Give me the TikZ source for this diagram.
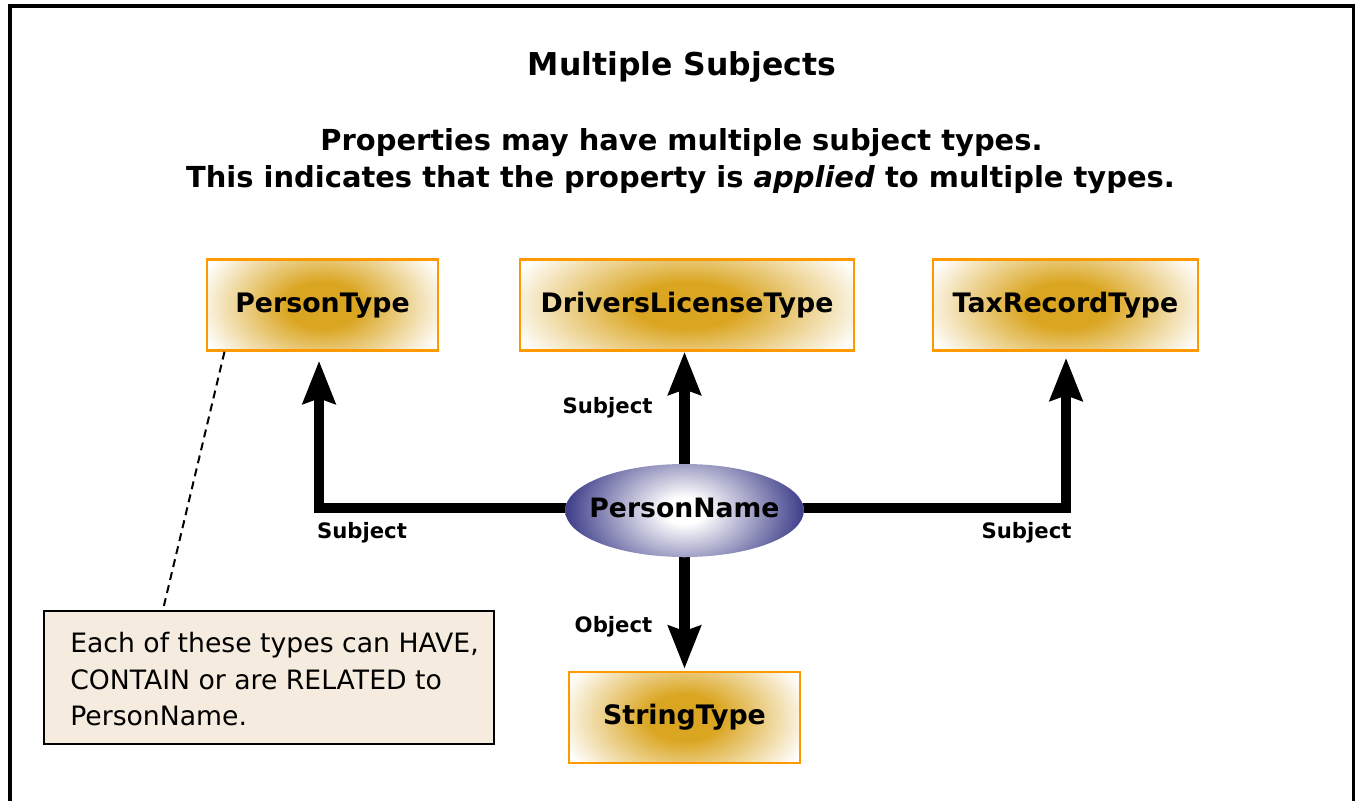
\documentclass[tikz,border=0pt]{standalone}
\usepackage{fontspec}
\setmainfont{DejaVu Sans}
\usetikzlibrary{arrows.meta,shapes.geometric,calc,backgrounds}
\definecolor{boxgold}{RGB}{218,165,32}
\definecolor{boxorange}{RGB}{255,153,0}
\definecolor{pnblue}{RGB}{52,52,132}
\definecolor{notefill}{RGB}{245,235,222}
\pgfdeclareradialshading{goldshade}{\pgfpoint{0bp}{0bp}}{color(0bp)=(boxgold); color(7bp)=(boxgold); color(25bp)=(white); color(50bp)=(white)}
\pgfdeclareradialshading{pnshade}{\pgfpoint{0bp}{0bp}}{color(0bp)=(white); color(4bp)=(white); color(25bp)=(pnblue); color(50bp)=(pnblue)}
\tikzset{
  typebox/.style={draw=boxorange, line width=1.8pt, fill=white, rectangle,
    minimum height=68.25pt, inner sep=0pt,
    font=\bfseries\fontsize{20.1pt}{24pt}\selectfont, text height=15.5pt, text depth=5pt,
    path picture={\shade[shading=goldshade]
      let \p1=(path picture bounding box.north east), \p2=(path picture bounding box.south west) in
      (path picture bounding box.center) ellipse [x radius={0.56*(\x1-\x2)}, y radius={0.9*(\y1-\y2)}];}},
  propnode/.style={ellipse, fill=white, inner xsep=-8pt, inner ysep=0pt, minimum width=176.25pt, minimum height=69.75pt,
    font=\bfseries\fontsize{20pt}{24pt}\selectfont, text height=15.3pt, text depth=5.5pt,
    path picture={\shade[shading=pnshade]
      let \p1=(path picture bounding box.north east), \p2=(path picture bounding box.south west) in
      (path picture bounding box.center) ellipse [x radius={0.52*(\x1-\x2)}, y radius={0.9*(\y1-\y2)}];}},
  bigarrow/.style={line width=7.8pt, -{Stealth[length=32pt,width=24pt,inset=3.75pt]}},
  edgelabel/.style={font=\bfseries\fontsize{15.9pt}{19pt}\selectfont, anchor=base, inner sep=0pt},
  notebox/.style={draw=black, line width=2pt, fill=notefill, minimum width=337.5pt, minimum height=99.75pt, inner sep=0pt},
  notetextstyle/.style={font=\fontsize{20pt}{27.4pt}\selectfont, align=left, anchor=north west, inner sep=0pt},
  titlestyle/.style={font=\bfseries\fontsize{23.6pt}{28pt}\selectfont, anchor=base, inner sep=0pt},
  substyle/.style={font=\bfseries\fontsize{21.7pt}{26pt}\selectfont, anchor=base, inner sep=0pt},
  callout/.style={line width=1.5pt, dash pattern=on 6pt off 4pt}
}
\begin{document}
\begin{tikzpicture}[x=0.75pt, y=-0.75pt]
\useasboundingbox (0,0) rectangle (1355,800);
\draw[line width=2.4pt] (10,805) -- (10,6) -- (1353.5,6) -- (1353.5,805);

\node[titlestyle] (title) at (682,75) {Multiple Subjects};
\node[substyle] (sub1) at (681.5,150) {Properties may have multiple subject types.};
\node[substyle] (sub2) at (680.5,187) {This indicates that the property is \textit{applied} to multiple types.};

\node[typebox, minimum width=173.25pt] (PT) at (322.5,305) {PersonType};
\node[typebox, minimum width=250.5pt] (DL) at (687,305) {DriversLicenseType};
\node[typebox, minimum width=198.75pt] (TR) at (1065.5,305) {TaxRecordType};
\node[typebox, minimum width=173.25pt] (ST) at (684.5,717.5) {StringType};

\node[propnode] (PN) at (684.5,510.5) {PersonName};

\node[edgelabel] (l1) at (607.5,413) {Subject};
\node[edgelabel] (l2) at (362,538) {Subject};
\node[edgelabel] (l3) at (1026.5,538) {Subject};
\node[edgelabel] (l4) at (613.5,632) {Object};

\node[notebox] (note) at (269,677.5) {};
\node[notetextstyle] (notetext) at (70,632) {Each of these types can HAVE,\\CONTAIN or are RELATED to\\PersonName.};

\draw[callout] ([xshift=-73.5pt]PT.south) -- ([xshift=-79.5pt]note.north);

\begin{pgfonlayer}{background}
\fill[white] (0,0) rectangle (1355,800);
\draw[bigarrow] (PN.center) -- (PN.center |- DL.south);
\draw[bigarrow] ([yshift=1.9pt]PN.center) -| ([xshift=-2.6pt,yshift=-6.75pt]PT.south);
\draw[bigarrow] ([yshift=1.9pt]PN.center) -| ([xshift=0.4pt,yshift=-4.5pt]TR.south);
\draw[bigarrow] (PN.center) -- ([yshift=1.5pt]PN.center |- ST.north);
\end{pgfonlayer}
\end{tikzpicture}
\end{document}
